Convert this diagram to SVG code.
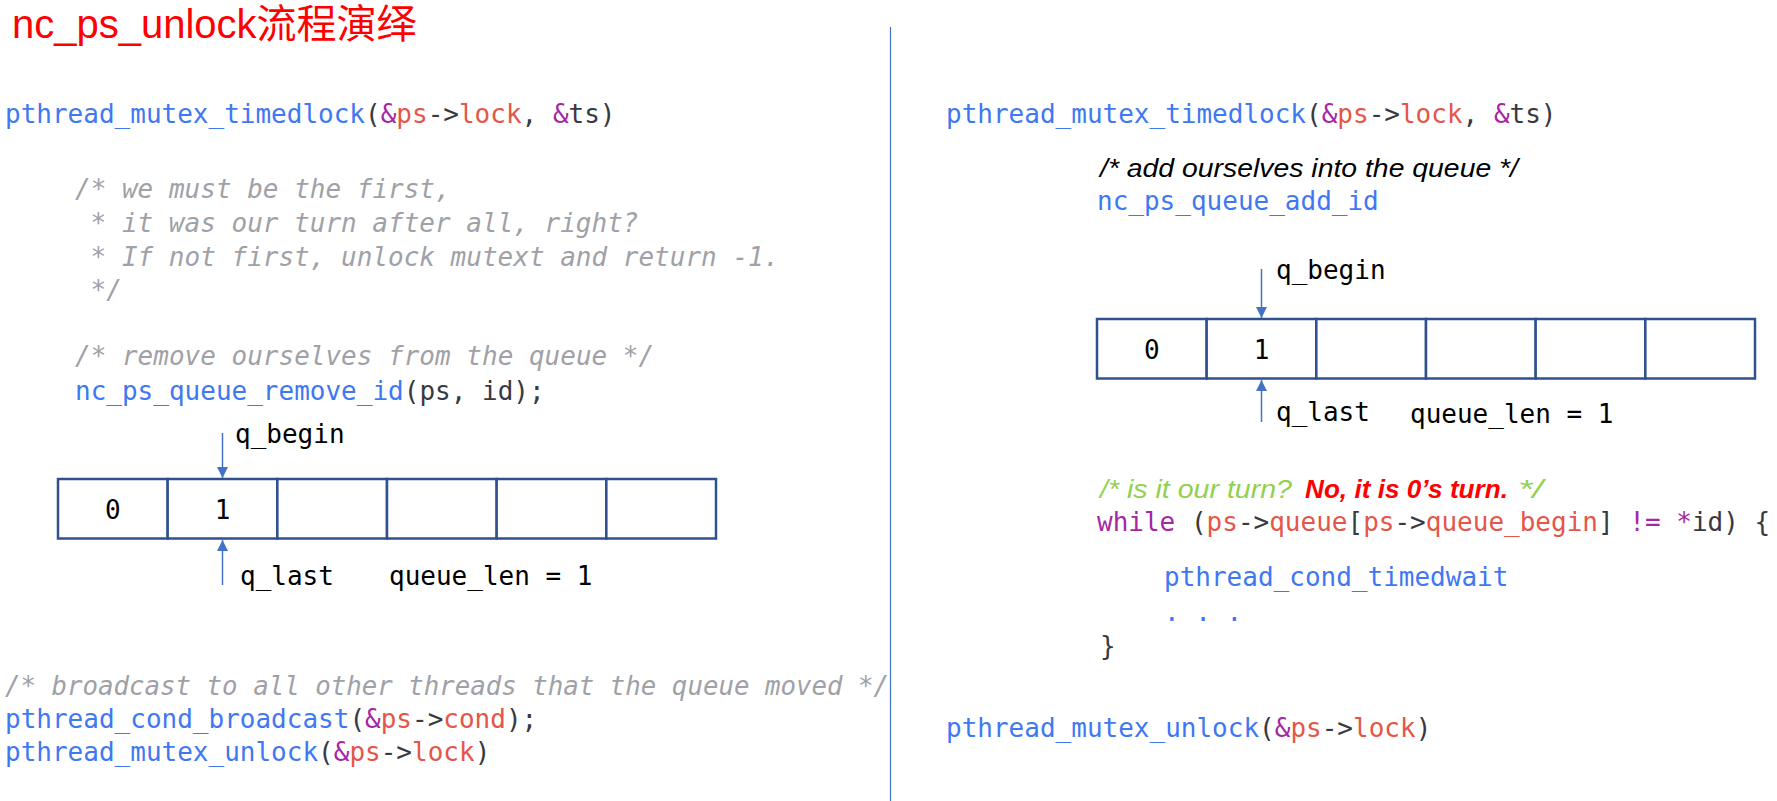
<svg xmlns="http://www.w3.org/2000/svg" width="1777" height="801" viewBox="0 0 1777 801">
<defs>
<style>
.code{font-family:"DejaVu Sans Mono","Liberation Mono",monospace;font-size:26px;fill:#383A42}
.fn{fill:#4078F2}
.kw{fill:#A626A4}
.var{fill:#E45649}
.cmt{font-family:"DejaVu Sans Mono","Liberation Mono",monospace;font-size:26px;font-style:italic;fill:#A0A1A7}
.lbl{font-family:"DejaVu Sans Mono","Liberation Mono",monospace;font-size:26px;fill:#000}
.note{font-family:"Liberation Sans","Open Sans",sans-serif;font-size:26px;font-style:italic}
.cell{fill:#fff;stroke:#2F528F;stroke-width:2.5}
.arr{stroke:#4472C4;stroke-width:1.5;fill:none;marker-end:url(#ah)}
</style>
<marker id="ah" markerUnits="userSpaceOnUse" markerWidth="12" markerHeight="12" refX="11" refY="6" orient="auto">
<path d="M0,0.5 L11,6 L0,11.5 z" fill="#4472C4"/>
</marker>
</defs>
<rect width="1777" height="801" fill="#fff"/>

<g id="title">
<text x="12" y="38" font-family="'Liberation Sans','Noto Sans CJK SC',sans-serif" font-size="40" fill="#FF0000">nc_ps_unlock流程演绎</text>
</g>

<g id="divider">
<line x1="890.5" y1="27" x2="890.5" y2="801" stroke="#4472C4" stroke-width="1.2"/>
</g>

<g id="left-code">
<text class="code" x="5" y="123"><tspan class="fn">pthread_mutex_timedlock</tspan>(<tspan class="kw">&amp;</tspan><tspan class="var">ps</tspan>-&gt;<tspan class="var">lock</tspan>, <tspan class="kw">&amp;</tspan>ts)</text>
<text class="cmt" x="75" y="198">/* we must be the first,</text>
<text class="cmt" x="90.6" y="232">* it was our turn after all, right?</text>
<text class="cmt" x="90.6" y="266">* If not first, unlock mutext and return -1.</text>
<text class="cmt" x="90.6" y="299">*/</text>
<text class="cmt" x="75" y="365">/* remove ourselves from the queue */</text>
<text class="code" x="75" y="400"><tspan class="fn">nc_ps_queue_remove_id</tspan>(ps, id);</text>
<text class="cmt" x="5" y="695" textLength="884" lengthAdjust="spacingAndGlyphs">/* broadcast to all other threads that the queue moved */</text>
<text class="code" x="5" y="728"><tspan class="fn">pthread_cond_broadcast</tspan>(<tspan class="kw">&amp;</tspan><tspan class="var">ps</tspan>-&gt;<tspan class="var">cond</tspan>);</text>
<text class="code" x="5" y="761"><tspan class="fn">pthread_mutex_unlock</tspan>(<tspan class="kw">&amp;</tspan><tspan class="var">ps</tspan>-&gt;<tspan class="var">lock</tspan>)</text>
</g>

<g id="left-queue">
<rect class="cell" x="58" y="479" width="109.67" height="59.5"/>
<rect class="cell" x="167.67" y="479" width="109.67" height="59.5"/>
<rect class="cell" x="277.33" y="479" width="109.67" height="59.5"/>
<rect class="cell" x="387" y="479" width="109.67" height="59.5"/>
<rect class="cell" x="496.67" y="479" width="109.67" height="59.5"/>
<rect class="cell" x="606.33" y="479" width="109.67" height="59.5"/>
<text class="lbl" x="112.8" y="519" text-anchor="middle">0</text>
<text class="lbl" x="222.5" y="519" text-anchor="middle">1</text>
</g>

<g id="left-labels">
<text class="lbl" x="235" y="443">q_begin</text>
<text class="lbl" x="240" y="585">q_last</text>
<text class="lbl" x="389" y="585">queue_len = 1</text>
</g>

<g id="right-code">
<text class="code" x="946" y="123"><tspan class="fn">pthread_mutex_timedlock</tspan>(<tspan class="kw">&amp;</tspan><tspan class="var">ps</tspan>-&gt;<tspan class="var">lock</tspan>, <tspan class="kw">&amp;</tspan>ts)</text>
<text class="note" x="1100" y="177" fill="#000" textLength="418" lengthAdjust="spacingAndGlyphs">/* add ourselves into the queue */</text>
<text class="code" x="1097" y="210"><tspan class="fn">nc_ps_queue_add_id</tspan></text>
<text class="note" x="1100" y="498" fill="#92D050" textLength="192" lengthAdjust="spacingAndGlyphs">/* is it our turn?</text>
<text class="note" x="1305" y="498" fill="#FF0000" font-weight="bold" textLength="203" lengthAdjust="spacingAndGlyphs">No, it is 0’s turn.</text>
<text class="note" x="1518" y="498" fill="#92D050" textLength="25" lengthAdjust="spacingAndGlyphs">*/</text>
<text class="code" x="1097" y="531"><tspan class="kw">while</tspan> (<tspan class="var">ps</tspan>-&gt;<tspan class="var">queue</tspan>[<tspan class="var">ps</tspan>-&gt;<tspan class="var">queue_begin</tspan>] <tspan class="kw">!=</tspan> <tspan class="kw">*</tspan>id) {</text>
<text class="code fn" x="1164" y="586">pthread_cond_timedwait</text>
<text class="code fn" x="1164" y="621">. . .</text>
<text class="code" x="1100" y="655">}</text>
<text class="code" x="946" y="737"><tspan class="fn">pthread_mutex_unlock</tspan>(<tspan class="kw">&amp;</tspan><tspan class="var">ps</tspan>-&gt;<tspan class="var">lock</tspan>)</text>
</g>

<g id="right-queue">
<rect class="cell" x="1097" y="319" width="109.67" height="59.5"/>
<rect class="cell" x="1206.67" y="319" width="109.67" height="59.5"/>
<rect class="cell" x="1316.33" y="319" width="109.67" height="59.5"/>
<rect class="cell" x="1426" y="319" width="109.67" height="59.5"/>
<rect class="cell" x="1535.67" y="319" width="109.67" height="59.5"/>
<rect class="cell" x="1645.33" y="319" width="109.67" height="59.5"/>
<text class="lbl" x="1151.8" y="359" text-anchor="middle">0</text>
<text class="lbl" x="1261.5" y="359" text-anchor="middle">1</text>
</g>

<g id="right-labels">
<text class="lbl" x="1276" y="279">q_begin</text>
<text class="lbl" x="1276" y="421">q_last</text>
<text class="lbl" x="1410" y="423">queue_len = 1</text>
</g>

<g id="connectors">
<line class="arr" x1="222.5" y1="433" x2="222.5" y2="478"/>
<line class="arr" x1="222.5" y1="585" x2="222.5" y2="540"/>
<line class="arr" x1="1261.5" y1="269" x2="1261.5" y2="318"/>
<line class="arr" x1="1261.5" y1="422" x2="1261.5" y2="380"/>
</g>
</svg>
